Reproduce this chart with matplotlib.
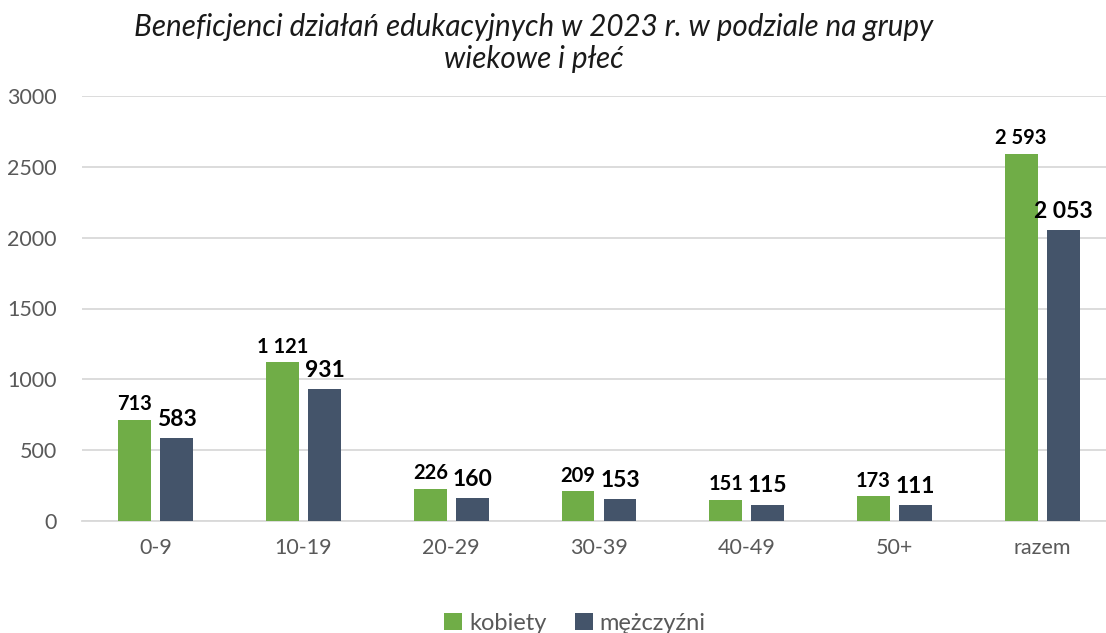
import matplotlib
matplotlib.use("Agg")
import matplotlib.pyplot as plt
import numpy as np

categories = ["0-9", "10-19", "20-29", "30-39", "40-49", "50+", "razem"]
kobiety = [713, 1121, 226, 209, 151, 173, 2593]
mezczyzni = [583, 931, 160, 153, 115, 111, 2053]
series_names = ["kobiety", "mężczyźni"]
yticks = [0, 500, 1000, 1500, 2000, 2500, 3000]
title = "Beneficjenci działań edukacyjnych w 2023 r. w podziale na grupy\nwiekowe i płeć"

plt.rcParams['font.family'] = ['Lato', 'DejaVu Sans']

W, H = 1106, 633
fig = plt.figure(figsize=(W/100, H/100), dpi=100)
ax = fig.add_axes([82/W, (H-521)/H, (1116-82)/W, 425/H])

green = "#70AD47"
blue = "#44546A"
x = np.arange(len(categories))
bw = 0.223
off = 0.142

b1 = ax.bar(x - off, kobiety, bw, color=green, zorder=3, label=series_names[0])
b2 = ax.bar(x + off, mezczyzni, bw, color=blue, zorder=3, label=series_names[1])

def fmt(v):
    return f"{v:,}".replace(",", " ")

for xi, v in zip(x - off, kobiety):
    ax.annotate(fmt(v), (xi, v), xytext=(0, 4), textcoords="offset points",
                ha="center", va="bottom", fontsize=14.5, fontweight="bold", color="black")
for xi, v in zip(x + off, mezczyzni):
    ax.annotate(fmt(v), (xi, v), xytext=(0, 6), textcoords="offset points",
                ha="center", va="bottom", fontsize=16.5, fontweight="bold", color="black")

ax.set_xlim(-0.5, len(categories) - 0.5)
ax.set_ylim(0, 3000)
ax.set_yticks(yticks)
ax.set_xticks(x)
ax.set_xticklabels(categories)
ax.yaxis.grid(True, color="#d9d9d9", linewidth=1.3, zorder=0)
ax.set_axisbelow(True)
for s in ["top", "right", "left"]:
    ax.spines[s].set_visible(False)
ax.spines["bottom"].set_color("#d9d9d9")
ax.spines["bottom"].set_linewidth(1.3)
ax.tick_params(axis="both", length=0, labelsize=15.5, labelcolor="#595959")
ax.tick_params(axis="y", pad=18)
ax.tick_params(axis="x", pad=12)

fig.text(534/W, 1 - 43/H, title, ha="center", va="center", fontsize=21.3,
         style="italic", color="#1a1a1a", linespacing=1.15)

leg = fig.legend(handles=[b1, b2], labels=series_names, loc="center",
                 bbox_to_anchor=(575/W, 1 - 623/H), ncol=2, frameon=False,
                 fontsize=17, handlelength=0.75, handleheight=0.75,
                 handletextpad=0.3, columnspacing=1.2)
for t in leg.get_texts():
    t.set_color("#595959")

fig.savefig("out.png", dpi=100)
